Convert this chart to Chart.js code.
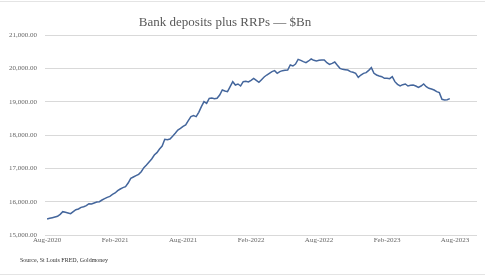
<!DOCTYPE html>
<html>
<head>
<meta charset="utf-8">
<script src="https://cdn.jsdelivr.net/npm/chart.js@4"></script>
<style>
  html, body { margin: 0; padding: 0; background: #fff; }
  #wrap { position: relative; width: 485px; height: 276px; overflow: hidden; }
  #c { position: absolute; left: 0; top: 0; }
  #title { position: absolute; left: 0; width: 450px; top: 13px; text-align: center;
           font-family: "Liberation Serif", "DejaVu Serif", serif; font-size: 13px; color: #595959; line-height: 18px; }
  #source { position: absolute; left: 20px; top: 256px; font-family: "Liberation Serif", serif;
            font-size: 6px; color: #333; line-height: 9px; }
  #topline { position: absolute; left: 0; right: 0; top: 1px; height: 1px; background: #e4e4e4; }
  #botline { position: absolute; left: 0; right: 0; top: 274px; height: 1px; background: #e4e4e4; }
</style>
</head>
<body>
<div id="wrap">
  <canvas id="c" width="485" height="276"></canvas>
  <div id="topline"></div>
  <div id="botline"></div>
  <div id="title">Bank deposits plus RRPs — $Bn</div>
  <div id="source">Source, St Louis FRED, Goldmoney</div>
</div>
<script>
// Weekly values, Aug-2020 .. Aug-2023 ($Bn)
const values = [
  15480, 15500, 15520, 15540, 15560, 15620, 15700, 15680, 15660, 15640,
  15700, 15760, 15780, 15830, 15850, 15880, 15940, 15930, 15960, 15990,
  16000, 16050, 16090, 16130, 16160, 16220, 16260, 16330, 16380, 16420,
  16450, 16560, 16700, 16740, 16780, 16820, 16900, 17020, 17100, 17190,
  17280, 17400, 17470, 17580, 17670, 17870, 17860, 17880, 17960, 18050,
  18150, 18200, 18260, 18300, 18430, 18550, 18580, 18550, 18680, 18850,
  19000, 18950, 19100, 19110, 19090, 19100, 19200, 19350, 19320, 19300,
  19450, 19600, 19500, 19530, 19470, 19600, 19610, 19590, 19640, 19700,
  19640, 19580, 19660, 19740, 19800, 19850, 19900, 19930, 19850, 19900,
  19930, 19940, 19950, 20100, 20070, 20130, 20270, 20240, 20200, 20170,
  20220, 20280, 20240, 20220, 20240, 20250, 20250, 20170, 20120, 20150,
  20190, 20090, 20000, 19970, 19960, 19950, 19900, 19880, 19850, 19730,
  19800, 19850, 19870, 19940, 20020, 19850, 19800, 19770, 19750, 19700,
  19700, 19690, 19750, 19600, 19520, 19470, 19510, 19530, 19470, 19490,
  19500, 19470, 19430, 19470, 19530, 19450, 19400, 19380, 19350, 19300,
  19270, 19070, 19050, 19060, 19090
];
// Week index of each labelled tick, and its text
const tickWeeks  = [0, 26, 52, 78, 104, 130, 156];
const tickLabels = ["Aug-2020", "Feb-2021", "Aug-2021", "Feb-2022", "Aug-2022", "Feb-2023", "Aug-2023"];
const yTicks = [15000, 16000, 17000, 18000, 19000, 20000, 21000];

const points = values.map((v, i) => ({ x: i, y: v }));
const serif = "'Liberation Serif', 'DejaVu Serif', serif";

new Chart(document.getElementById('c'), {
  type: 'line',
  data: {
    datasets: [{
      data: points,
      borderColor: '#44669c',
      borderWidth: 1.5,
      pointRadius: 0,
      tension: 0,
      fill: false
    }]
  },
  options: {
    responsive: false,
    animation: false,
    layout: { padding: { left: 0, right: 8, top: 35, bottom: 0 } },
    plugins: { legend: { display: false }, tooltip: { enabled: false }, title: { display: false } },
    scales: {
      x: {
        type: 'linear',
        min: -0.8,
        max: 164.4,
        afterFit: s => { s.height = 41; },
        afterBuildTicks: s => { s.ticks = tickWeeks.map(v => ({ value: v })); },
        grid: { display: false, drawTicks: false },
        border: { display: false },
        ticks: {
          autoSkip: false, maxRotation: 0, padding: 1,
          color: '#666666', font: { family: serif, size: 7 },
          callback: (v) => { const k = tickWeeks.indexOf(v); return k >= 0 ? tickLabels[k] : ''; }
        }
      },
      y: {
        min: 15000,
        max: 21000,
        afterFit: s => { s.width = 45; },
        afterBuildTicks: s => { s.ticks = yTicks.map(v => ({ value: v })); },
        grid: { color: '#d9d9d9', lineWidth: 1, drawTicks: false },
        border: { display: false },
        ticks: {
          padding: 8, color: '#666666', font: { family: serif, size: 7 },
          callback: v => v.toLocaleString('en-US', { minimumFractionDigits: 2, maximumFractionDigits: 2 })
        }
      }
    }
  }
});
</script>
</body>
</html>
